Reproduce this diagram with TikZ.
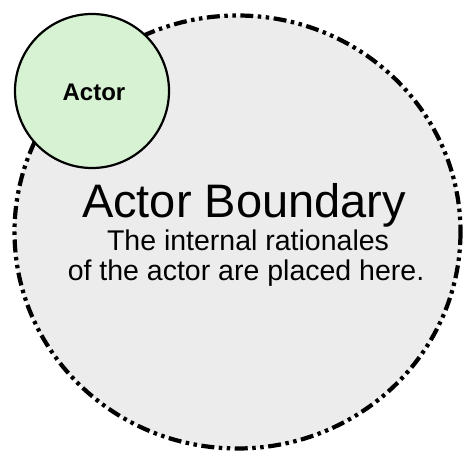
\documentclass[tikz,border=0pt]{standalone}
\usepackage{fontspec}
\setmainfont{Liberation Sans}
\definecolor{actorgreen}{RGB}{214,242,210}
\definecolor{boundgray}{RGB}{236,236,236}
\begin{document}
\begin{tikzpicture}[x=1pt,y=-1pt]
\useasboundingbox (0,0) rectangle (464,452);

% actor boundary
\draw[line width=4.2pt, fill=boundgray, dash pattern=on 13pt off 4.5pt on 3.5pt off 4.5pt on 3.5pt off 4.5pt]
    (237.5,232) ellipse [x radius=223, y radius=216.5];
\node (title) at (244,217) [anchor=base, font=\fontsize{47}{50}\selectfont]{Actor Boundary};
\node (line1) at (248,251) [anchor=base, font=\fontsize{28.5}{30}\selectfont]{The internal rationales};
\node (line2) at (246,280) [anchor=base, font=\fontsize{28.5}{30}\selectfont]{of the actor are placed here.};

% actor
\draw[line width=2.2pt, fill=actorgreen](92,91) circle (77);
\node (actor) at (94,101) [anchor=base, font=\bfseries\fontsize{24}{26}\selectfont]{Actor};

\end{tikzpicture}
\end{document}
